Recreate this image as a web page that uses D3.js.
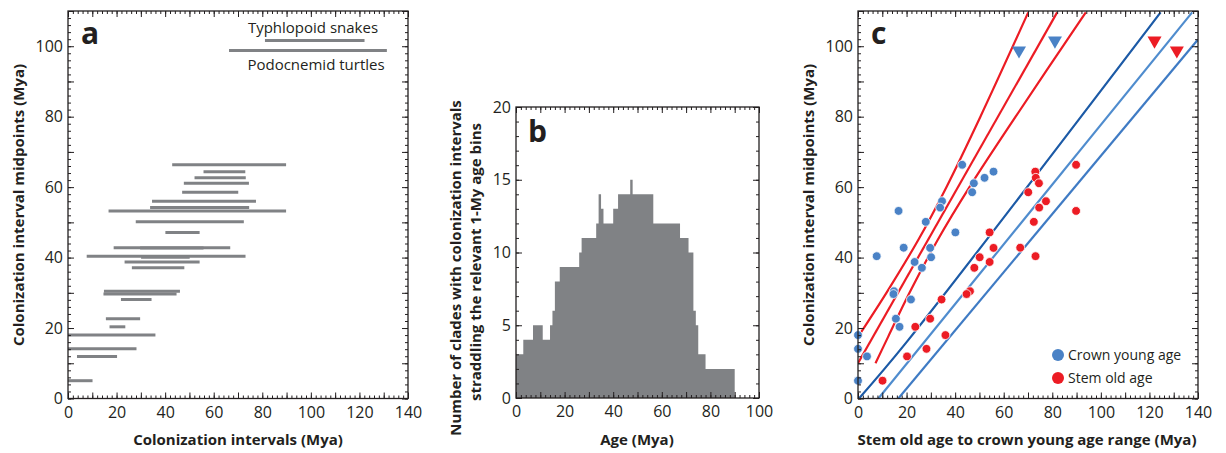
<!DOCTYPE html>
<html>
<head>
<meta charset="utf-8">
<script src="https://cdn.jsdelivr.net/npm/d3@7"></script>
<style>
  body { margin: 0; background: #fff; }
  text { font-family: "Open Sans", "Noto Sans", sans-serif; fill: #231f20; }
  .axis path { display: none; }
  .axis line { stroke: #231f20; stroke-width: 1; }
  .axis text { font-size: 16px; }
  .lbl { font-size: 15px; font-weight: bold; }
  .letter { font-size: 30px; font-weight: bold; }
</style>
</head>
<body>
<svg id="chart" width="1226" height="453"></svg>
<script>
// colonization intervals (Mya): start = crown young age, end = stem old age
const intervalStarts = [42.9, 55.8, 52.1, 47.7, 47.0, 34.6, 33.8, 16.7, 27.9, 40.1, 18.8, 29.7, 7.7,
                        30.1, 23.3, 26.3, 14.8, 14.6, 21.8, 15.6, 17.1, 0, 0, 3.7, 0];
const intervalEnds   = [89.8, 73.0, 73.2, 74.5, 70.1, 77.4, 74.6, 89.8, 72.4, 54.2, 66.8, 55.8, 73.1,
                        50.1, 54.2, 47.9, 46.1, 44.7, 34.4, 29.7, 23.6, 36.0, 28.2, 20.2, 10.1];
// two outlying clades, drawn as triangles in panel c
const outlierNames  = ["Typhlopoid snakes", "Podocnemid turtles"];
const outlierStarts = [81.1, 66.3];
const outlierEnds   = [122.1, 131.3];

// panel b: number of clades per 1-My bin (step start, count), last step ends at histEnd
const histStarts = [0, 3, 7, 11, 14, 15, 16, 18, 26, 27, 33, 34, 35, 36, 40, 42, 47, 48, 56.5, 67.5, 71, 73, 74, 75, 78];
const histCounts = [3, 4, 5, 4, 5, 6, 8, 9, 10, 11, 12, 14, 13, 12, 13, 14, 15, 14, 12, 11, 10, 6, 5, 3, 2];
const histEnd = 90;

// panel c fit lines with their bands, points in (age, midpoint)
const redLines = [
  [[-7.2, 10], [0, 17.5], [11.7, 30], [24.8, 45], [36.4, 60], [50.4, 80], [70.1, 109.6]],
  [[0, 10], [82.0, 109.6]],
  [[7.2, 10], [12.4, 17.5], [21.2, 30], [32.8, 45], [45.9, 60], [64.9, 80], [93.8, 109.6]]
];
const blueLines = [
  [[0.4, 0], [20, 16], [124.6, 109.6]],
  [[8.4, 0], [137.6, 109.6]],
  [[16.6, 0], [140, 101.9]]
];
const blueLineColors = ["#1c5aa6", "#4f8cce", "#3f7bc4"];

const ageTicks = [0, 20, 40, 60, 80, 100, 120, 140];
const midTicks = [0, 20, 40, 60, 80, 100];
const histXTicks = [0, 20, 40, 60, 80, 100];
const histYTicks = [0, 5, 10, 15, 20];

const BLUE = "#4a82c6", RED = "#ec1c24", GREY = "#808285";

const svg = d3.select("#chart");

function frame(g, x, y, xMinor, xMajor, xLab, yMinor, yMajor, yLab) {
  const [x0, x1] = x.range(), [y0, y1] = y.range();
  const xd = x.domain(), yd = y.domain();
  const xm = d3.range(xd[0], xd[1] + 0.001, xMinor);
  const xM = d3.range(xd[0], xd[1] + 0.001, xMajor);
  const ym = d3.range(yd[0], yd[1] + 0.001, yMinor);
  const yM = d3.range(yd[0], yd[1] + 0.001, yMajor);
  const add = (axis, tr) => g.append("g").attr("class", "axis").attr("transform", tr).call(axis);
  [[xm, 3], [xM, 6]].forEach(([v, s]) => {
    add(d3.axisBottom(x).tickValues(v).tickSize(-s).tickFormat(""), `translate(0,${y0})`);
    add(d3.axisTop(x).tickValues(v).tickSize(-s).tickFormat(""), `translate(0,${y1})`);
  });
  [[ym, 3], [yM, 6]].forEach(([v, s]) => {
    add(d3.axisLeft(y).tickValues(v).tickSize(-s).tickFormat(""), `translate(${x0},0)`);
    add(d3.axisRight(y).tickValues(v).tickSize(-s).tickFormat(""), `translate(${x1},0)`);
  });
  add(d3.axisBottom(x).tickValues(xLab).tickSize(0).tickPadding(7), `translate(0,${y0})`)
    .selectAll("text").attr("dy", "0.75em");
  add(d3.axisLeft(y).tickValues(yLab).tickSize(0).tickPadding(5), `translate(${x0},0)`);
  g.append("rect").attr("x", x0).attr("y", y1).attr("width", x1 - x0).attr("height", y0 - y1)
    .attr("fill", "none").attr("stroke", "#231f20").attr("stroke-width", 1.3);
}

// ---------- panel a
const xa = d3.scaleLinear().domain([0, 140]).range([68, 408]);
const ya = d3.scaleLinear().domain([0, 110]).range([398.5, 11]);
const ga = svg.append("g");
const allStarts = intervalStarts.concat(outlierStarts);
const allEnds = intervalEnds.concat(outlierEnds);
ga.selectAll("line.bar").data(allStarts).join("line")
  .attr("x1", (d) => xa(d))
  .attr("x2", (d, i) => xa(allEnds[i]))
  .attr("y1", (d, i) => ya((d + allEnds[i]) / 2))
  .attr("y2", (d, i) => ya((d + allEnds[i]) / 2))
  .attr("stroke", GREY).attr("stroke-width", 3);
ga.append("text").attr("x", 313).attr("y", 33).attr("text-anchor", "middle")
  .style("font-size", "15px").text(outlierNames[0]);
ga.append("text").attr("x", 316).attr("y", 70).attr("text-anchor", "middle")
  .style("font-size", "15px").text(outlierNames[1]);
frame(ga, xa, ya, 2, 10, ageTicks, 2, 10, midTicks);
ga.append("text").attr("class", "letter").attr("x", 81).attr("y", 44).text("a");
ga.append("text").attr("class", "lbl").attr("x", 238).attr("y", 445).attr("text-anchor", "middle")
  .text("Colonization intervals (Mya)");
ga.append("text").attr("class", "lbl").attr("transform", "translate(24,205) rotate(-90)")
  .attr("text-anchor", "middle").text("Colonization interval midpoints (Mya)");

// ---------- panel b
const xb = d3.scaleLinear().domain([0, 100]).range([516, 759]);
const yb = d3.scaleLinear().domain([0, 20]).range([398, 107]);
const gb = svg.append("g");
const steps = [];
histStarts.forEach((s, i) => {
  const e = i < histStarts.length - 1 ? histStarts[i + 1] : histEnd;
  steps.push([s, histCounts[i]], [e, histCounts[i]]);
});
const area = d3.area().x((d) => xb(d[0])).y0(yb(0)).y1((d) => yb(d[1]));
gb.append("path").datum(steps).attr("d", area).attr("fill", GREY);
frame(gb, xb, yb, 2, 10, histXTicks, 1, 5, histYTicks);
gb.append("text").attr("class", "letter").attr("x", 528).attr("y", 142).text("b");
gb.append("text").attr("class", "lbl").attr("x", 637).attr("y", 445).attr("text-anchor", "middle")
  .text("Age (Mya)");
gb.append("text").attr("class", "lbl").attr("transform", "translate(461,268) rotate(-90)")
  .attr("text-anchor", "middle").text("Number of clades with colonization intervals");
gb.append("text").attr("class", "lbl").attr("transform", "translate(481,262) rotate(-90)")
  .attr("text-anchor", "middle").text("straddling the relevant 1-My age bins");

// ---------- panel c
const xc = d3.scaleLinear().domain([0, 140]).range([858, 1198]);
const yc = d3.scaleLinear().domain([0, 110]).range([398.5, 11]);
const gc = svg.append("g");
svg.append("clipPath").attr("id", "clipc").append("rect")
  .attr("x", 858).attr("y", 11).attr("width", 340).attr("height", 387.5);
const lineGen = d3.line().x((d) => xc(d[0])).y((d) => yc(d[1])).curve(d3.curveCatmullRom);
const lg = gc.append("g").attr("clip-path", "url(#clipc)");
redLines.forEach((l) => lg.append("path").attr("d", lineGen(l)).attr("fill", "none")
  .attr("stroke", RED).attr("stroke-width", 2.2));
blueLines.forEach((l, i) => lg.append("path").attr("d", lineGen(l)).attr("fill", "none")
  .attr("stroke", blueLineColors[i]).attr("stroke-width", 2.2));

const mids = intervalStarts.map((d, i) => (d + intervalEnds[i]) / 2);
gc.selectAll("circle.crown").data(intervalStarts).join("circle")
  .attr("cx", (d) => xc(d)).attr("cy", (d, i) => yc(mids[i])).attr("r", 4.4)
  .attr("fill", BLUE).attr("stroke", "#fff").attr("stroke-width", 0.8);
gc.selectAll("circle.stem").data(intervalEnds).join("circle")
  .attr("cx", (d) => xc(d)).attr("cy", (d, i) => yc(mids[i])).attr("r", 4.4)
  .attr("fill", RED).attr("stroke", "#fff").attr("stroke-width", 0.8);
const tri = d3.symbol().type(d3.symbolTriangle).size(85);
outlierStarts.forEach((s, i) => {
  const m = (s + outlierEnds[i]) / 2;
  gc.append("path").attr("d", tri()).attr("fill", BLUE)
    .attr("transform", `translate(${xc(s)},${yc(m)}) rotate(180)`);
  gc.append("path").attr("d", tri()).attr("fill", RED)
    .attr("transform", `translate(${xc(outlierEnds[i])},${yc(m)}) rotate(180)`);
});
frame(gc, xc, yc, 2, 10, ageTicks, 2, 10, midTicks);
gc.append("text").attr("class", "letter").attr("x", 871).attr("y", 44).text("c");
[["Crown young age", BLUE, 355], ["Stem old age", RED, 378]].forEach(([t, c, yy]) => {
  gc.append("circle").attr("cx", 1058).attr("cy", yy).attr("r", 6).attr("fill", c);
  gc.append("text").attr("x", 1068).attr("y", yy + 5).style("font-size", "14px").text(t);
});
gc.append("text").attr("class", "lbl").attr("x", 1027).attr("y", 445).attr("text-anchor", "middle")
  .text("Stem old age to crown young age range (Mya)");
gc.append("text").attr("class", "lbl").attr("transform", "translate(814,205) rotate(-90)")
  .attr("text-anchor", "middle").text("Colonization interval midpoints (Mya)");
</script>
</body>
</html>
